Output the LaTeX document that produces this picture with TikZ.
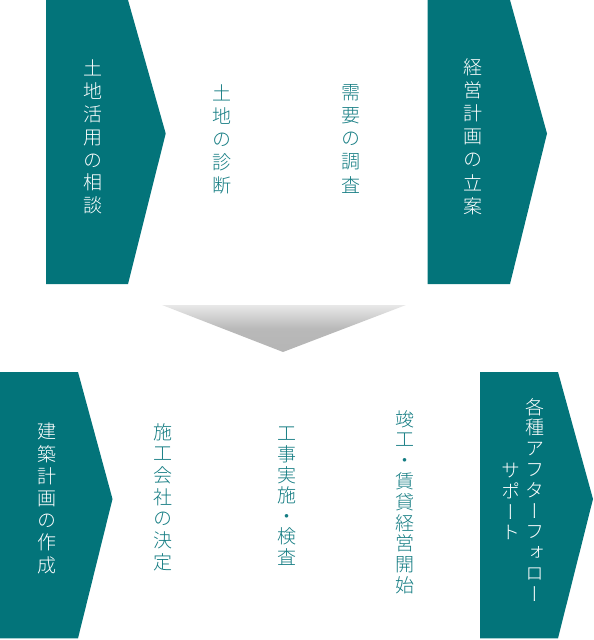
\documentclass[tikz,border=0pt]{standalone}
\usepackage{fontspec}
\newfontfamily\jp[RawFeature={+vert}]{Noto Sans CJK JP Light}
\definecolor{tealbox}{RGB}{3,116,122}
\definecolor{tealtext}{RGB}{20,124,130}
\tikzset{
  arrowbox/.style={fill=tealbox, draw=none},
  vtext/.style={anchor=north, inner sep=0pt, align=center,
    font=\jp\fontsize{19}{#1}\selectfont},
  ontext/.style={text=white},
  offtext/.style={text=tealtext},
}
\begin{document}
\begin{tikzpicture}[x=1pt,y=-1pt]
\useasboundingbox (0,0) rectangle (594,640);
% top row arrows
\draw[arrowbox] (46,0) -- (128,0) -- (165.7,133.5) -- (128,284) -- (46,284) -- cycle;
\draw[arrowbox] (427.7,0) -- (510,0) -- (547,133.5) -- (510,284) -- (427.7,284) -- cycle;
% down triangle
\shade[top color=gray!18, bottom color=gray!58, middle color=gray!55, shading angle=0]
  (162,305) -- (406,305) -- (283,352) -- cycle;
% bottom row arrows
\draw[arrowbox] (0,372) -- (78,372) -- (112.5,499) -- (78,638.3) -- (0,638.3) -- cycle;
\draw[arrowbox] (480,372) -- (558,372) -- (593,499) -- (558,638.3) -- (480,638.3) -- cycle;
% top texts
\node[vtext=22.8, ontext] (t1) at (93,60) {土\\地\\活\\用\\の\\相\\談};
\node[vtext=22.9, offtext] (t2) at (222,85) {土\\地\\の\\診\\断};
\node[vtext=23.2, offtext] (t3) at (351,84) {需\\要\\の\\調\\査};
\node[vtext=23.2, ontext] (t4) at (473,58) {経\\営\\計\\画\\の\\立\\案};
% bottom texts
\node[vtext=22.2, ontext] (b1) at (47,423) {建\\築\\計\\画\\の\\作\\成};
\node[vtext=21.7, offtext] (b2) at (163,423) {施\\工\\会\\社\\の\\決\\定};
\node[vtext=20.6, offtext] (b3) at (287,427) {工\\事\\実\\施\\・\\検\\査};
\node[vtext=20.8, offtext] (b4) at (405,410) {竣\\工\\・\\賃\\貸\\経\\営\\開\\始};
\node[vtext=20.8, ontext] (b5) at (535,398) {各\\種\\ア\\フ\\タ\\ー\\フ\\ォ\\ロ\\ー};
\node[vtext=20.8, ontext] (b6) at (511,463) {サ\\ポ\\ー\\ト};
\end{tikzpicture}
\end{document}
